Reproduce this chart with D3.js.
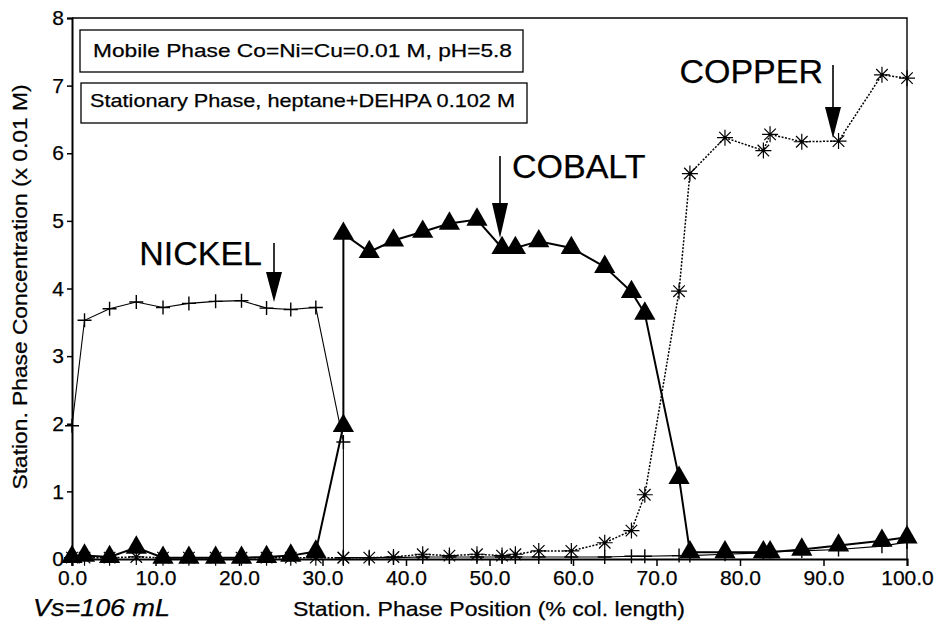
<!DOCTYPE html>
<html>
<head>
<meta charset="utf-8">
<script src="https://cdn.jsdelivr.net/npm/d3@7"></script>
<style>
  body { margin: 0; background: #fff; }
  svg { display: block; font-family: "Liberation Sans", Arial, sans-serif; }
  text { stroke: #000; stroke-width: 0.25px; }
</style>
</head>
<body>
<div id="chart"></div>
<script>
// station positions (% of column length); 32.5 appears twice (step in the profile)
const stations = [0, 1.5, 4.5, 7.7, 10.9, 14.0, 17.2, 20.3, 23.3, 26.2, 29.2, 32.5, 32.5,
	35.6, 38.5, 42.0, 45.2, 48.5, 51.5, 53.1, 55.9, 59.8, 63.8, 67.0, 68.6, 72.7,
	74.0, 78.2, 82.8, 83.6, 87.4, 91.8, 97.0, 100.0];

const nickel = [1.97, 3.53, 3.70, 3.80, 3.72, 3.78, 3.81, 3.82, 3.71, 3.69, 3.72, 1.73, 0.02,
	0.02, 0.02, 0.03, 0.03, 0.03, 0.03, 0.03, 0.03, 0.03, 0.03, 0.04, 0.04, 0.05,
	0.05, 0.07, 0.09, 0.11, 0.12, 0.14, 0.19, 0.25, 0.30];

const cobalt = [0.03, 0.05, 0.03, 0.17, 0.02, 0.02, 0.02, 0.02, 0.03, 0.05, 0.11, 1.97, 4.81,
	4.54, 4.71, 4.84, 4.96, 5.02, 4.60, 4.60, 4.70, 4.60, 4.32, 3.95, 3.63, 1.20,
	0.10, 0.10, 0.10, 0.10, 0.14, 0.20, 0.27, 0.32];

const copper = [0.02, 0.02, 0.02, 0.03, 0.02, 0.02, 0.02, 0.02, 0.02, 0.02, 0.02, 0.02, 0.02,
	0.02, 0.03, 0.07, 0.05, 0.07, 0.05, 0.07, 0.12, 0.12, 0.24, 0.42, 0.95, 3.96,
	5.70, 6.23, 6.04, 6.28, 6.17, 6.18, 7.16, 7.11];

const xTicks = [0, 10, 20, 30, 40, 50, 60, 70, 80, 90, 100];
const yTicks = [0, 1, 2, 3, 4, 5, 6, 7, 8];

const legendLines = [
	'Mobile Phase Co=Ni=Cu=0.01 M, pH=5.8',
	'Stationary Phase, heptane+DEHPA 0.102 M'
];

const metalLabels = ['NICKEL', 'COBALT', 'COPPER'];

const width = 935, height = 622;
const font = '"Liberation Sans", Arial, sans-serif';

const x = d3.scaleLinear().domain([0, 100]).range([72, 907]);
const y = d3.scaleLinear().domain([0, 8]).range([559, 18]);

const svg = d3.select('#chart')
	.append('svg')
	.attr('width', width)
	.attr('height', height);

// frame (top + right)
svg.append('path')
	.attr('d', `M${x(0)},${y(8)}H${x(100)}V${y(0)}`)
	.attr('fill', 'none')
	.attr('stroke', '#000')
	.attr('stroke-width', 1.4);

// x axis
const xAxis = svg.append('g')
	.attr('transform', `translate(0,${y(0)})`)
	.call(d3.axisBottom(x).tickValues(xTicks).tickFormat(d3.format('.1f')).tickSize(7).tickPadding(4));
xAxis.select('.domain').attr('stroke-width', 2);
xAxis.selectAll('.tick line').attr('stroke-width', 1.5);
xAxis.selectAll('text')
	.attr('font-size', 21)
	.attr('font-family', font)
	.attr('fill', '#000');

// y axis
const yAxis = svg.append('g')
	.attr('transform', `translate(${x(0)},0)`)
	.call(d3.axisLeft(y).tickValues(yTicks).tickSize(5).tickPadding(3));
yAxis.select('.domain').attr('stroke-width', 2);
yAxis.selectAll('.tick line').attr('stroke-width', 1.5);
yAxis.selectAll('text')
	.attr('font-size', 21)
	.attr('font-family', font)
	.attr('fill', '#000');

// axis titles
svg.append('text')
	.attr('x', 293)
	.attr('y', 616)
	.attr('font-size', 21)
	.attr('textLength', 392)
	.attr('lengthAdjust', 'spacingAndGlyphs')
	.text('Station. Phase Position (% col. length)');

svg.append('text')
	.attr('transform', 'translate(27,287) rotate(-90)')
	.attr('text-anchor', 'middle')
	.attr('font-size', 21)
	.attr('textLength', 405)
	.attr('lengthAdjust', 'spacingAndGlyphs')
	.text('Station. Phase Concentration (x 0.01 M)');

svg.append('text')
	.attr('x', 33)
	.attr('y', 616)
	.attr('font-size', 24)
	.attr('font-style', 'italic')
	.attr('textLength', 137)
	.attr('lengthAdjust', 'spacingAndGlyphs')
	.text('Vs=106 mL');

// legend boxes
const boxes = [
	{ x: 80, y: 30, w: 443, h: 42, tx: 93, ty: 57, tl: 419 },
	{ x: 81, y: 83, w: 446, h: 40, tx: 90, ty: 107, tl: 425 }
];
boxes.forEach((b, i) => {
	svg.append('rect')
		.attr('x', b.x).attr('y', b.y)
		.attr('width', b.w).attr('height', b.h)
		.attr('fill', '#fff')
		.attr('stroke', '#000')
		.attr('stroke-width', 1.3);
	svg.append('text')
		.attr('x', b.tx).attr('y', b.ty)
		.attr('font-size', 19)
		.attr('textLength', b.tl)
		.attr('lengthAdjust', 'spacingAndGlyphs')
		.text(legendLines[i]);
});

// series
const pts = (vals) => stations.map((s, i) => [s, vals[i]]);
const line = d3.line().x((d) => x(d[0])).y((d) => y(d[1]));

const cuPts = pts(copper);
const niPts = pts(nickel);
const coPts = pts(cobalt);

svg.append('path')
	.attr('d', line(cuPts))
	.attr('fill', 'none')
	.attr('stroke', '#000')
	.attr('stroke-width', 1.5)
	.attr('stroke-dasharray', '2,1.5');

svg.append('path')
	.attr('d', line(niPts))
	.attr('fill', 'none')
	.attr('stroke', '#000')
	.attr('stroke-width', 1.1);

svg.append('path')
	.attr('d', line(coPts))
	.attr('fill', 'none')
	.attr('stroke', '#000')
	.attr('stroke-width', 2);

// copper: asterisks
const r = 8;
const star = `M${-r},0H${r}M0,${-r}V${r}M${-r * 0.72},${-r * 0.72}L${r * 0.72},${r * 0.72}M${-r * 0.72},${r * 0.72}L${r * 0.72},${-r * 0.72}`;
svg.append('g').selectAll('path')
	.data(cuPts)
	.join('path')
	.attr('transform', (d) => `translate(${x(d[0])},${y(d[1])})`)
	.attr('d', star)
	.attr('stroke', '#000')
	.attr('stroke-width', 1.2);

// nickel: plus
svg.append('g').selectAll('path')
	.data(niPts)
	.join('path')
	.attr('transform', (d) => `translate(${x(d[0])},${y(d[1])})`)
	.attr('d', 'M-7,0H7M0,-7V7')
	.attr('stroke', '#000')
	.attr('stroke-width', 1.4);

// cobalt: filled triangles
svg.append('g').selectAll('path')
	.data(coPts)
	.join('path')
	.attr('transform', (d) => `translate(${x(d[0])},${y(d[1])})`)
	.attr('d', d3.symbol(d3.symbolTriangle, 195))
	.attr('fill', '#000');

// metal labels with arrows
const arrows = [
	{ ax: 274, top: 243, base: 272, tip: 302, tx: 262, ty: 265, anchor: 'end' },
	{ ax: 500, top: 156, base: 203, tip: 238, tx: 512, ty: 178, anchor: 'start' },
	{ ax: 833, top: 65, base: 107, tip: 138, tx: 823, ty: 83, anchor: 'end' }
];
arrows.forEach((a, i) => {
	svg.append('line')
		.attr('x1', a.ax).attr('x2', a.ax)
		.attr('y1', a.top).attr('y2', a.base + 2)
		.attr('stroke', '#000')
		.attr('stroke-width', 1.6);
	svg.append('path')
		.attr('d', `M${a.ax - 8},${a.base}L${a.ax + 8},${a.base}L${a.ax},${a.tip}Z`)
		.attr('fill', '#000');
	svg.append('text')
		.attr('x', a.tx).attr('y', a.ty)
		.attr('text-anchor', a.anchor)
		.attr('font-size', 34)
		.text(metalLabels[i]);
});
</script>
</body>
</html>
